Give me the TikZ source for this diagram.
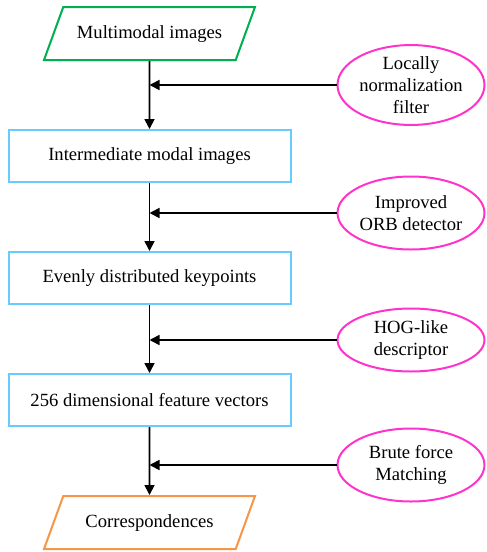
\documentclass[tikz,border=0pt]{standalone}
\usepackage{fontspec}
\setmainfont{Liberation Serif}
\usepackage{xcolor}
\usepackage{tikz}
\usetikzlibrary{positioning,arrows.meta,shapes.geometric}

\definecolor{ioGreen}{RGB}{0,176,80}
\definecolor{ioOrange}{RGB}{247,150,70}
\definecolor{dataBlue}{RGB}{102,204,255}
\definecolor{opPink}{RGB}{255,51,204}

\begin{document}
\begin{tikzpicture}[
  x=1pt, y=-1pt,
  >={Triangle[length=10pt,width=10pt]},
  node distance=68pt,
  font=\fontsize{18.6}{21.7}\selectfont,
  io/.style={trapezium, trapezium left angle=70, trapezium right angle=110,
    trapezium stretches body, draw, line width=2pt, minimum width=211pt,
    text height=13pt, text depth=4pt, inner ysep=18pt, inner xsep=0pt},
  data/.style={draw=dataBlue, line width=2pt, minimum width=282pt, minimum height=52pt, inner sep=0pt},
  op/.style={ellipse, draw=opPink, line width=2pt, minimum width=147pt, minimum height=73pt, inner sep=0pt, align=center},
  flow/.style={->, line width=1.7pt},
]
\useasboundingbox (0,0) rectangle (487,552);

% main chain
\node[io, draw=ioGreen] (imgs) at (149.5,33.5) {Multimodal images};
\node[data, below=of imgs] (inter) {Intermediate modal images};
\node[data, below=of inter] (kpts) {Evenly distributed keypoints};
\node[data, below=of kpts] (feat) {256 dimensional feature vectors};
\node[io, draw=ioOrange, below=of feat] (corr) {Correspondences};

% processing steps
\node[op, minimum height=76pt] (lnf) at (411,85) {Locally\\normalization\\filter};
\node[op] (orb) at (411,213) {Improved\\ORB detector};
\node[op, minimum height=63pt] (hog) at (411,340) {HOG-like\\descriptor};
\node[op, minimum height=73pt] (bfm) at (411,465) {Brute force\\Matching};

\draw[flow] (imgs) -- (inter);
\draw[flow] (inter) -- (kpts);
\draw[flow] (kpts) -- (feat);
\draw[flow] (feat) -- (corr);

\draw[flow] (lnf.west) -- (lnf.west -| imgs.south);
\draw[flow] (orb.west) -- (orb.west -| imgs.south);
\draw[flow] (hog.west) -- (hog.west -| imgs.south);
\draw[flow] (bfm.west) -- (bfm.west -| imgs.south);
\end{tikzpicture}
\end{document}
